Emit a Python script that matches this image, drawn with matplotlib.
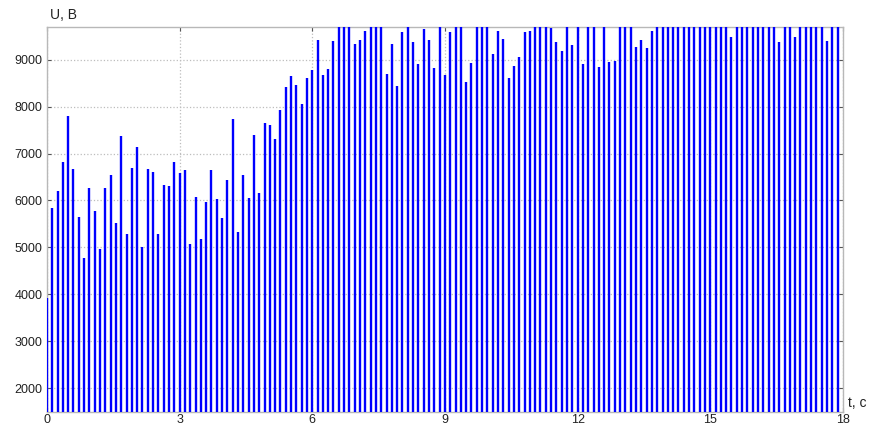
import numpy as np
import matplotlib
matplotlib.use("Agg")
import matplotlib.pyplot as plt

plt.rcParams['font.family'] = ['Liberation Sans', 'DejaVu Sans']

# sample step, s
dt = 0.12

# voltage amplitude at each sample, V (values above the plot range are clipped)
u = [
    3910, 5840, 6200, 6820, 7790, 6660, 5650, 4770, 6260, 5780,
    4965, 6260, 6540, 5520, 7370, 5280, 6700, 7130, 5000, 6680,
    6610, 5290, 6320, 6300, 6820, 6590, 6640, 5070, 6070, 5170,
    5960, 6640, 6040, 5620, 6430, 7740, 5330, 6550, 6060, 7400,
    6160, 7645, 7600, 7300, 7920, 8420, 8650, 8450, 8060, 8600,
    8790, 9430, 8670, 8800, 9400, 9900, 9900, 9900, 9330, 9430,
    9620, 9900, 9900, 9900, 8690, 9340, 8440, 9590, 9900, 9380,
    8910, 9650, 9410, 8830, 9900, 8675, 9600, 9900, 9900, 8525,
    8920, 9900, 9900, 9900, 9115, 9615, 9445, 8600, 8865, 9060,
    9580, 9610, 9900, 9900, 9900, 9680, 9385, 9190, 9900, 9310,
    9900, 8905, 9900, 9900, 8835, 9900, 8940, 8980, 9900, 9900,
    9900, 9260, 9425, 9250, 9612, 9900, 9900, 9900, 9900, 9900,
    9900, 9900, 9900, 9900, 9900, 9900, 9900, 9900, 9900, 9480,
    9900, 9900, 9900, 9900, 9900, 9900, 9900, 9690, 9370, 9900,
    9900, 9475, 9900, 9900, 9900, 9900, 9900, 9400, 9900, 9900,
]
t = np.arange(len(u)) * dt

xticks = [0, 3, 6, 9, 12, 15, 18]
yticks = [2000, 3000, 4000, 5000, 6000, 7000, 8000, 9000]

fig = plt.figure(figsize=(8.69, 4.26), dpi=100)
ax = fig.add_axes([0.054, 0.034, 0.916, 0.903])

# stems drawn above the frame so the first one at t=0 stays visible
ax.vlines(t, 0, u, colors='#0000FF', linewidth=1.7, zorder=3)

ax.set_xlim(0, 18)
ax.set_ylim(1500, 9700)
ax.set_xticks(xticks)
ax.set_yticks(yticks)
ax.set_axisbelow(True)
ax.grid(True, linestyle=':', color='#BDBDBD', linewidth=0.9)

for s in ax.spines.values():
    s.set_color('#B8B8B8')
    s.set_linewidth(1.0)
ax.tick_params(direction='in', top=True, right=True, length=3,
               width=0.8, color='#555555', labelsize=9,
               labelcolor='#222222')
ax.tick_params(axis='x', pad=1.5)
ax.tick_params(axis='y', pad=3)

fig.text(0.058, 0.965, 'U, B', fontsize=10, color='#222222', va='center', ha='left')
fig.text(0.976, 0.053, 't, c', fontsize=10, color='#222222', va='center', ha='left')

fig.savefig('out.png', dpi=100)
